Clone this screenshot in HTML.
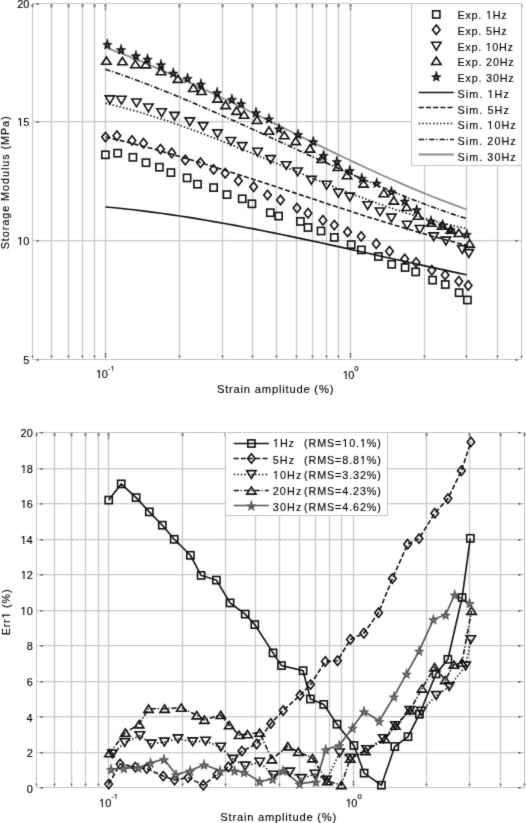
<!DOCTYPE html><html><head><meta charset="utf-8"><style>html,body{margin:0;padding:0;background:#fff;width:526px;height:823px;overflow:hidden}svg{display:block}text{font-family:"Liberation Sans",sans-serif;fill:#000}</style></head><body>
<svg width="526" height="823" viewBox="0 0 526 823">
<defs><filter id="soft" x="0" y="0" width="526" height="823" filterUnits="userSpaceOnUse" color-interpolation-filters="sRGB"><feConvolveMatrix order="3" kernelMatrix="0.0121 0.0858 0.0121 0.0858 0.6084 0.0858 0.0121 0.0858 0.0121" edgeMode="duplicate" preserveAlpha="true"/></filter></defs>
<g filter="url(#soft)">
<rect width="526" height="823" fill="#fff"/>
<line x1="51.5" y1="3.5" x2="51.5" y2="359.5" stroke="#c8c8c8" stroke-width="1.25"/>
<line x1="68.5" y1="3.5" x2="68.5" y2="359.5" stroke="#c8c8c8" stroke-width="1.25"/>
<line x1="82.5" y1="3.5" x2="82.5" y2="359.5" stroke="#c8c8c8" stroke-width="1.25"/>
<line x1="94.5" y1="3.5" x2="94.5" y2="359.5" stroke="#c8c8c8" stroke-width="1.25"/>
<line x1="105.5" y1="3.5" x2="105.5" y2="359.5" stroke="#c8c8c8" stroke-width="1.25"/>
<line x1="179.5" y1="3.5" x2="179.5" y2="359.5" stroke="#c8c8c8" stroke-width="1.25"/>
<line x1="222.5" y1="3.5" x2="222.5" y2="359.5" stroke="#c8c8c8" stroke-width="1.25"/>
<line x1="252.5" y1="3.5" x2="252.5" y2="359.5" stroke="#c8c8c8" stroke-width="1.25"/>
<line x1="276.5" y1="3.5" x2="276.5" y2="359.5" stroke="#c8c8c8" stroke-width="1.25"/>
<line x1="296.5" y1="3.5" x2="296.5" y2="359.5" stroke="#c8c8c8" stroke-width="1.25"/>
<line x1="312.5" y1="3.5" x2="312.5" y2="359.5" stroke="#c8c8c8" stroke-width="1.25"/>
<line x1="326.5" y1="3.5" x2="326.5" y2="359.5" stroke="#c8c8c8" stroke-width="1.25"/>
<line x1="338.5" y1="3.5" x2="338.5" y2="359.5" stroke="#c8c8c8" stroke-width="1.25"/>
<line x1="350.5" y1="3.5" x2="350.5" y2="359.5" stroke="#c8c8c8" stroke-width="1.25"/>
<line x1="424.5" y1="3.5" x2="424.5" y2="359.5" stroke="#c8c8c8" stroke-width="1.25"/>
<line x1="466.5" y1="3.5" x2="466.5" y2="359.5" stroke="#c8c8c8" stroke-width="1.25"/>
<line x1="497.5" y1="3.5" x2="497.5" y2="359.5" stroke="#c8c8c8" stroke-width="1.25"/>
<line x1="32.5" y1="240.5" x2="521.5" y2="240.5" stroke="#c8c8c8" stroke-width="1.25"/>
<line x1="32.5" y1="121.5" x2="521.5" y2="121.5" stroke="#c8c8c8" stroke-width="1.25"/>
<rect x="32.5" y="3.5" width="489.0" height="356.0" fill="none" stroke="#c4c4c4" stroke-width="1"/>
<line x1="32.5" y1="4.0" x2="32.5" y2="7.3" stroke="#777" stroke-width="1.9"/>
<rect x="31.75" y="355.6" width="1.5" height="1.6" fill="#444"/>
<line x1="51.5" y1="4.0" x2="51.5" y2="7.3" stroke="#777" stroke-width="1.9"/>
<rect x="50.75" y="355.6" width="1.5" height="1.6" fill="#444"/>
<line x1="68.5" y1="4.0" x2="68.5" y2="7.3" stroke="#777" stroke-width="1.9"/>
<rect x="67.75" y="355.6" width="1.5" height="1.6" fill="#444"/>
<line x1="82.5" y1="4.0" x2="82.5" y2="7.3" stroke="#777" stroke-width="1.9"/>
<rect x="81.75" y="355.6" width="1.5" height="1.6" fill="#444"/>
<line x1="94.5" y1="4.0" x2="94.5" y2="7.3" stroke="#777" stroke-width="1.9"/>
<rect x="93.75" y="355.6" width="1.5" height="1.6" fill="#444"/>
<line x1="105.5" y1="4.0" x2="105.5" y2="7.3" stroke="#777" stroke-width="1.9"/>
<line x1="105.5" y1="8.5" x2="105.5" y2="10.1" stroke="#555" stroke-width="1.5"/>
<rect x="104.75" y="355.6" width="1.5" height="1.6" fill="#444"/>
<rect x="104.75" y="353.1" width="1.5" height="1.5" fill="#444"/>
<line x1="179.5" y1="4.0" x2="179.5" y2="7.3" stroke="#777" stroke-width="1.9"/>
<rect x="178.75" y="355.6" width="1.5" height="1.6" fill="#444"/>
<line x1="222.5" y1="4.0" x2="222.5" y2="7.3" stroke="#777" stroke-width="1.9"/>
<rect x="221.75" y="355.6" width="1.5" height="1.6" fill="#444"/>
<line x1="252.5" y1="4.0" x2="252.5" y2="7.3" stroke="#777" stroke-width="1.9"/>
<rect x="251.75" y="355.6" width="1.5" height="1.6" fill="#444"/>
<line x1="276.5" y1="4.0" x2="276.5" y2="7.3" stroke="#777" stroke-width="1.9"/>
<rect x="275.75" y="355.6" width="1.5" height="1.6" fill="#444"/>
<line x1="296.5" y1="4.0" x2="296.5" y2="7.3" stroke="#777" stroke-width="1.9"/>
<rect x="295.75" y="355.6" width="1.5" height="1.6" fill="#444"/>
<line x1="312.5" y1="4.0" x2="312.5" y2="7.3" stroke="#777" stroke-width="1.9"/>
<rect x="311.75" y="355.6" width="1.5" height="1.6" fill="#444"/>
<line x1="326.5" y1="4.0" x2="326.5" y2="7.3" stroke="#777" stroke-width="1.9"/>
<rect x="325.75" y="355.6" width="1.5" height="1.6" fill="#444"/>
<line x1="338.5" y1="4.0" x2="338.5" y2="7.3" stroke="#777" stroke-width="1.9"/>
<rect x="337.75" y="355.6" width="1.5" height="1.6" fill="#444"/>
<line x1="350.5" y1="4.0" x2="350.5" y2="7.3" stroke="#777" stroke-width="1.9"/>
<line x1="350.5" y1="8.5" x2="350.5" y2="10.1" stroke="#555" stroke-width="1.5"/>
<rect x="349.75" y="355.6" width="1.5" height="1.6" fill="#444"/>
<rect x="349.75" y="353.1" width="1.5" height="1.5" fill="#444"/>
<line x1="424.5" y1="4.0" x2="424.5" y2="7.3" stroke="#777" stroke-width="1.9"/>
<rect x="423.75" y="355.6" width="1.5" height="1.6" fill="#444"/>
<line x1="466.5" y1="4.0" x2="466.5" y2="7.3" stroke="#777" stroke-width="1.9"/>
<rect x="465.75" y="355.6" width="1.5" height="1.6" fill="#444"/>
<line x1="497.5" y1="4.0" x2="497.5" y2="7.3" stroke="#777" stroke-width="1.9"/>
<rect x="496.75" y="355.6" width="1.5" height="1.6" fill="#444"/>
<line x1="521.5" y1="4.0" x2="521.5" y2="7.3" stroke="#777" stroke-width="1.9"/>
<rect x="520.75" y="355.6" width="1.5" height="1.6" fill="#444"/>
<rect x="36.5" y="359.2" width="2.2" height="1.4" fill="#444"/>
<rect x="515.3" y="359.2" width="2.2" height="1.4" fill="#444"/>
<rect x="36.5" y="240.2" width="2.2" height="1.4" fill="#444"/>
<rect x="515.3" y="240.2" width="2.2" height="1.4" fill="#444"/>
<rect x="36.5" y="121.2" width="2.2" height="1.4" fill="#444"/>
<rect x="515.3" y="121.2" width="2.2" height="1.4" fill="#444"/>
<rect x="36.5" y="3.2" width="2.2" height="1.4" fill="#444"/>
<rect x="515.3" y="3.2" width="2.2" height="1.4" fill="#444"/>
<polyline points="105.5,207.0 114.8,207.8 124.0,208.8 133.3,209.8 142.5,210.9 151.8,212.1 161.1,213.3 170.3,214.6 179.6,216.0 188.9,217.4 198.1,218.9 207.4,220.5 216.6,222.1 225.9,223.7 235.2,225.4 244.4,227.2 253.7,228.9 262.9,230.8 272.2,232.6 281.5,234.5 290.7,236.4 300.0,238.4 309.3,240.4 318.5,242.3 327.8,244.4 337.0,246.4 346.3,248.4 355.6,250.5 364.8,252.5 374.1,254.6 383.3,256.7 392.6,258.7 401.9,260.8 411.1,262.8 420.4,264.9 429.7,266.9 438.9,268.9 448.2,270.9 457.4,272.9 466.7,274.8" fill="none" stroke="#111" stroke-width="1.6"/>
<polyline points="105.6,137.0 114.9,139.2 124.1,141.4 133.4,143.8 142.6,146.2 151.9,148.6 161.2,151.2 170.4,153.8 179.7,156.5 188.9,159.2 198.2,162.0 207.4,164.8 216.7,167.7 226.0,170.6 235.2,173.5 244.5,176.5 253.7,179.5 263.0,182.5 272.3,185.5 281.5,188.6 290.8,191.7 300.0,194.7 309.3,197.8 318.6,200.8 327.8,203.9 337.1,206.9 346.3,209.9 355.6,212.9 364.9,215.9 374.1,218.8 383.4,221.7 392.6,224.5 401.9,227.3 411.1,230.1 420.4,232.8 429.7,235.4 438.9,238.0 448.2,240.5 457.4,243.0 466.7,245.3" fill="none" stroke="#111" stroke-width="1.6" stroke-dasharray="5 2.2"/>
<polyline points="105.6,103.3 114.9,105.5 124.1,107.9 133.4,110.4 142.6,113.1 151.9,116.0 161.2,118.9 170.4,122.0 179.7,125.3 188.9,128.6 198.2,132.0 207.4,135.5 216.7,139.1 226.0,142.8 235.2,146.5 244.5,150.2 253.7,154.0 263.0,157.8 272.3,161.6 281.5,165.5 290.8,169.3 300.0,173.1 309.3,176.9 318.6,180.7 327.8,184.4 337.1,188.1 346.3,191.7 355.6,195.3 364.9,198.7 374.1,202.1 383.4,205.4 392.6,208.5 401.9,211.6 411.1,214.5 420.4,217.2 429.7,219.8 438.9,222.3 448.2,224.6 457.4,226.7 466.7,228.6" fill="none" stroke="#111" stroke-width="1.6" stroke-dasharray="1.5 2.05"/>
<polyline points="105.4,69.2 114.7,72.4 123.9,75.6 133.2,78.9 142.5,82.4 151.7,85.9 161.0,89.6 170.2,93.3 179.5,97.1 188.8,101.0 198.0,105.0 207.3,109.0 216.6,113.0 225.8,117.2 235.1,121.3 244.4,125.5 253.6,129.7 262.9,133.9 272.2,138.2 281.4,142.4 290.7,146.7 299.9,150.9 309.2,155.2 318.5,159.4 327.7,163.6 337.0,167.7 346.3,171.8 355.5,175.9 364.8,179.9 374.1,183.9 383.3,187.8 392.6,191.6 401.9,195.3 411.1,199.0 420.4,202.5 429.6,206.0 438.9,209.3 448.2,212.6 457.4,215.7 466.7,218.7" fill="none" stroke="#111" stroke-width="1.6" stroke-dasharray="5.3 1.6 1.3 2.2"/>
<polyline points="105.4,47.3 114.7,50.8 123.9,54.4 133.2,58.1 142.5,61.9 151.7,65.8 161.0,69.8 170.2,73.9 179.5,78.0 188.8,82.3 198.0,86.6 207.3,90.9 216.6,95.3 225.8,99.7 235.1,104.2 244.4,108.7 253.6,113.2 262.9,117.8 272.2,122.4 281.4,126.9 290.7,131.5 299.9,136.1 309.2,140.6 318.5,145.1 327.7,149.6 337.0,154.1 346.3,158.5 355.5,162.9 364.8,167.2 374.1,171.5 383.3,175.7 392.6,179.8 401.9,183.9 411.1,187.8 420.4,191.7 429.6,195.5 438.9,199.1 448.2,202.7 457.4,206.1 466.7,209.5" fill="none" stroke="#8c8c8c" stroke-width="1.8"/>
<rect x="101.8" y="151.2" width="7.2" height="7.2" fill="none" stroke="#111" stroke-width="1.6"/>
<rect x="114.1" y="149.6" width="7.2" height="7.2" fill="none" stroke="#111" stroke-width="1.6"/>
<rect x="129.3" y="153.7" width="7.2" height="7.2" fill="none" stroke="#111" stroke-width="1.6"/>
<rect x="142.4" y="159.1" width="7.2" height="7.2" fill="none" stroke="#111" stroke-width="1.6"/>
<rect x="155.8" y="163.6" width="7.2" height="7.2" fill="none" stroke="#111" stroke-width="1.6"/>
<rect x="167.3" y="169.0" width="7.2" height="7.2" fill="none" stroke="#111" stroke-width="1.6"/>
<rect x="183.5" y="174.3" width="7.2" height="7.2" fill="none" stroke="#111" stroke-width="1.6"/>
<rect x="193.9" y="180.6" width="7.2" height="7.2" fill="none" stroke="#111" stroke-width="1.6"/>
<rect x="210.0" y="184.0" width="7.2" height="7.2" fill="none" stroke="#111" stroke-width="1.6"/>
<rect x="223.4" y="191.0" width="7.2" height="7.2" fill="none" stroke="#111" stroke-width="1.6"/>
<rect x="238.6" y="195.2" width="7.2" height="7.2" fill="none" stroke="#111" stroke-width="1.6"/>
<rect x="248.3" y="200.2" width="7.2" height="7.2" fill="none" stroke="#111" stroke-width="1.6"/>
<rect x="266.7" y="209.1" width="7.2" height="7.2" fill="none" stroke="#111" stroke-width="1.6"/>
<rect x="275.0" y="212.5" width="7.2" height="7.2" fill="none" stroke="#111" stroke-width="1.6"/>
<rect x="296.8" y="217.8" width="7.2" height="7.2" fill="none" stroke="#111" stroke-width="1.6"/>
<rect x="304.4" y="223.9" width="7.2" height="7.2" fill="none" stroke="#111" stroke-width="1.6"/>
<rect x="317.4" y="227.4" width="7.2" height="7.2" fill="none" stroke="#111" stroke-width="1.6"/>
<rect x="330.7" y="233.8" width="7.2" height="7.2" fill="none" stroke="#111" stroke-width="1.6"/>
<rect x="347.6" y="241.0" width="7.2" height="7.2" fill="none" stroke="#111" stroke-width="1.6"/>
<rect x="357.8" y="246.3" width="7.2" height="7.2" fill="none" stroke="#111" stroke-width="1.6"/>
<rect x="374.8" y="252.9" width="7.2" height="7.2" fill="none" stroke="#111" stroke-width="1.6"/>
<rect x="388.1" y="260.7" width="7.2" height="7.2" fill="none" stroke="#111" stroke-width="1.6"/>
<rect x="401.5" y="263.9" width="7.2" height="7.2" fill="none" stroke="#111" stroke-width="1.6"/>
<rect x="412.1" y="268.3" width="7.2" height="7.2" fill="none" stroke="#111" stroke-width="1.6"/>
<rect x="429.0" y="276.5" width="7.2" height="7.2" fill="none" stroke="#111" stroke-width="1.6"/>
<rect x="441.7" y="280.9" width="7.2" height="7.2" fill="none" stroke="#111" stroke-width="1.6"/>
<rect x="455.5" y="289.1" width="7.2" height="7.2" fill="none" stroke="#111" stroke-width="1.6"/>
<rect x="463.8" y="296.4" width="7.2" height="7.2" fill="none" stroke="#111" stroke-width="1.6"/>
<polygon points="105.5,132.4 109.3,137.1 105.5,141.8 101.7,137.1" fill="none" stroke="#111" stroke-width="1.6"/>
<polygon points="116.9,131.1 120.7,135.8 116.9,140.5 113.1,135.8" fill="none" stroke="#111" stroke-width="1.6"/>
<polygon points="132.0,135.7 135.8,140.4 132.0,145.1 128.2,140.4" fill="none" stroke="#111" stroke-width="1.6"/>
<polygon points="143.5,138.6 147.3,143.3 143.5,148.0 139.7,143.3" fill="none" stroke="#111" stroke-width="1.6"/>
<polygon points="160.5,144.4 164.3,149.1 160.5,153.8 156.7,149.1" fill="none" stroke="#111" stroke-width="1.6"/>
<polygon points="171.7,148.3 175.5,153.0 171.7,157.7 167.9,153.0" fill="none" stroke="#111" stroke-width="1.6"/>
<polygon points="185.3,155.3 189.1,160.0 185.3,164.7 181.5,160.0" fill="none" stroke="#111" stroke-width="1.6"/>
<polygon points="200.5,158.0 204.3,162.7 200.5,167.4 196.7,162.7" fill="none" stroke="#111" stroke-width="1.6"/>
<polygon points="213.6,164.7 217.4,169.4 213.6,174.1 209.8,169.4" fill="none" stroke="#111" stroke-width="1.6"/>
<polygon points="225.2,168.6 229.0,173.3 225.2,178.0 221.4,173.3" fill="none" stroke="#111" stroke-width="1.6"/>
<polygon points="238.4,176.1 242.2,180.8 238.4,185.5 234.6,180.8" fill="none" stroke="#111" stroke-width="1.6"/>
<polygon points="253.6,182.0 257.4,186.7 253.6,191.4 249.8,186.7" fill="none" stroke="#111" stroke-width="1.6"/>
<polygon points="267.5,190.3 271.3,195.0 267.5,199.7 263.7,195.0" fill="none" stroke="#111" stroke-width="1.6"/>
<polygon points="280.5,195.3 284.3,200.0 280.5,204.7 276.7,200.0" fill="none" stroke="#111" stroke-width="1.6"/>
<polygon points="297.0,203.4 300.8,208.1 297.0,212.8 293.2,208.1" fill="none" stroke="#111" stroke-width="1.6"/>
<polygon points="308.0,208.6 311.8,213.3 308.0,218.0 304.2,213.3" fill="none" stroke="#111" stroke-width="1.6"/>
<polygon points="322.9,215.6 326.7,220.3 322.9,225.0 319.1,220.3" fill="none" stroke="#111" stroke-width="1.6"/>
<polygon points="334.3,220.4 338.1,225.1 334.3,229.8 330.5,225.1" fill="none" stroke="#111" stroke-width="1.6"/>
<polygon points="347.6,227.2 351.4,231.9 347.6,236.6 343.8,231.9" fill="none" stroke="#111" stroke-width="1.6"/>
<polygon points="361.2,231.7 365.0,236.4 361.2,241.1 357.4,236.4" fill="none" stroke="#111" stroke-width="1.6"/>
<polygon points="376.2,239.0 380.0,243.7 376.2,248.4 372.4,243.7" fill="none" stroke="#111" stroke-width="1.6"/>
<polygon points="389.5,246.6 393.3,251.3 389.5,256.0 385.7,251.3" fill="none" stroke="#111" stroke-width="1.6"/>
<polygon points="404.7,254.2 408.5,258.9 404.7,263.6 400.9,258.9" fill="none" stroke="#111" stroke-width="1.6"/>
<polygon points="416.1,257.7 419.9,262.4 416.1,267.1 412.3,262.4" fill="none" stroke="#111" stroke-width="1.6"/>
<polygon points="431.8,265.6 435.6,270.3 431.8,275.0 428.0,270.3" fill="none" stroke="#111" stroke-width="1.6"/>
<polygon points="445.1,270.2 448.9,274.9 445.1,279.6 441.3,274.9" fill="none" stroke="#111" stroke-width="1.6"/>
<polygon points="458.8,276.5 462.6,281.2 458.8,285.9 455.0,281.2" fill="none" stroke="#111" stroke-width="1.6"/>
<polygon points="468.2,280.8 472.0,285.5 468.2,290.2 464.4,285.5" fill="none" stroke="#111" stroke-width="1.6"/>
<polygon points="105.2,95.9 114.6,95.9 109.9,103.7" fill="none" stroke="#111" stroke-width="1.6" stroke-linejoin="miter"/>
<polygon points="116.7,96.3 126.1,96.3 121.4,104.1" fill="none" stroke="#111" stroke-width="1.6" stroke-linejoin="miter"/>
<polygon points="131.8,99.0 141.2,99.0 136.5,106.8" fill="none" stroke="#111" stroke-width="1.6" stroke-linejoin="miter"/>
<polygon points="143.7,104.0 153.1,104.0 148.4,111.8" fill="none" stroke="#111" stroke-width="1.6" stroke-linejoin="miter"/>
<polygon points="156.9,108.8 166.3,108.8 161.6,116.6" fill="none" stroke="#111" stroke-width="1.6" stroke-linejoin="miter"/>
<polygon points="169.9,112.4 179.3,112.4 174.6,120.2" fill="none" stroke="#111" stroke-width="1.6" stroke-linejoin="miter"/>
<polygon points="185.1,117.9 194.5,117.9 189.8,125.7" fill="none" stroke="#111" stroke-width="1.6" stroke-linejoin="miter"/>
<polygon points="198.5,122.6 207.9,122.6 203.2,130.4" fill="none" stroke="#111" stroke-width="1.6" stroke-linejoin="miter"/>
<polygon points="212.8,129.9 222.2,129.9 217.5,137.7" fill="none" stroke="#111" stroke-width="1.6" stroke-linejoin="miter"/>
<polygon points="226.1,137.5 235.5,137.5 230.8,145.3" fill="none" stroke="#111" stroke-width="1.6" stroke-linejoin="miter"/>
<polygon points="237.5,142.6 246.9,142.6 242.2,150.4" fill="none" stroke="#111" stroke-width="1.6" stroke-linejoin="miter"/>
<polygon points="252.9,148.3 262.3,148.3 257.6,156.1" fill="none" stroke="#111" stroke-width="1.6" stroke-linejoin="miter"/>
<polygon points="265.9,155.6 275.3,155.6 270.6,163.4" fill="none" stroke="#111" stroke-width="1.6" stroke-linejoin="miter"/>
<polygon points="281.5,161.7 290.9,161.7 286.2,169.5" fill="none" stroke="#111" stroke-width="1.6" stroke-linejoin="miter"/>
<polygon points="292.9,168.0 302.3,168.0 297.6,175.8" fill="none" stroke="#111" stroke-width="1.6" stroke-linejoin="miter"/>
<polygon points="306.7,176.3 316.1,176.3 311.4,184.1" fill="none" stroke="#111" stroke-width="1.6" stroke-linejoin="miter"/>
<polygon points="322.0,181.3 331.4,181.3 326.7,189.1" fill="none" stroke="#111" stroke-width="1.6" stroke-linejoin="miter"/>
<polygon points="333.7,189.3 343.1,189.3 338.4,197.1" fill="none" stroke="#111" stroke-width="1.6" stroke-linejoin="miter"/>
<polygon points="345.1,193.1 354.5,193.1 349.8,200.9" fill="none" stroke="#111" stroke-width="1.6" stroke-linejoin="miter"/>
<polygon points="362.9,201.7 372.3,201.7 367.6,209.5" fill="none" stroke="#111" stroke-width="1.6" stroke-linejoin="miter"/>
<polygon points="375.3,208.0 384.7,208.0 380.0,215.8" fill="none" stroke="#111" stroke-width="1.6" stroke-linejoin="miter"/>
<polygon points="386.7,214.1 396.1,214.1 391.4,221.9" fill="none" stroke="#111" stroke-width="1.6" stroke-linejoin="miter"/>
<polygon points="402.4,221.3 411.8,221.3 407.1,229.1" fill="none" stroke="#111" stroke-width="1.6" stroke-linejoin="miter"/>
<polygon points="415.2,225.5 424.6,225.5 419.9,233.3" fill="none" stroke="#111" stroke-width="1.6" stroke-linejoin="miter"/>
<polygon points="429.0,232.9 438.4,232.9 433.7,240.7" fill="none" stroke="#111" stroke-width="1.6" stroke-linejoin="miter"/>
<polygon points="441.2,237.1 450.6,237.1 445.9,244.9" fill="none" stroke="#111" stroke-width="1.6" stroke-linejoin="miter"/>
<polygon points="457.6,245.6 467.0,245.6 462.3,253.4" fill="none" stroke="#111" stroke-width="1.6" stroke-linejoin="miter"/>
<polygon points="464.1,249.6 473.5,249.6 468.8,257.4" fill="none" stroke="#111" stroke-width="1.6" stroke-linejoin="miter"/>
<polygon points="101.7,64.2 111.1,64.2 106.4,57.0" fill="none" stroke="#111" stroke-width="1.6" stroke-linejoin="miter"/>
<polygon points="117.7,64.8 127.1,64.8 122.4,57.5" fill="none" stroke="#111" stroke-width="1.6" stroke-linejoin="miter"/>
<polygon points="130.7,67.7 140.1,67.7 135.4,60.4" fill="none" stroke="#111" stroke-width="1.6" stroke-linejoin="miter"/>
<polygon points="141.1,67.9 150.5,67.9 145.8,60.6" fill="none" stroke="#111" stroke-width="1.6" stroke-linejoin="miter"/>
<polygon points="156.3,74.7 165.7,74.7 161.0,67.3" fill="none" stroke="#111" stroke-width="1.6" stroke-linejoin="miter"/>
<polygon points="173.2,82.4 182.6,82.4 177.9,75.0" fill="none" stroke="#111" stroke-width="1.6" stroke-linejoin="miter"/>
<polygon points="188.6,91.5 198.0,91.5 193.3,84.1" fill="none" stroke="#111" stroke-width="1.6" stroke-linejoin="miter"/>
<polygon points="196.8,94.5 206.2,94.5 201.5,87.1" fill="none" stroke="#111" stroke-width="1.6" stroke-linejoin="miter"/>
<polygon points="212.8,102.1 222.2,102.1 217.5,94.8" fill="none" stroke="#111" stroke-width="1.6" stroke-linejoin="miter"/>
<polygon points="220.9,108.6 230.3,108.6 225.6,101.2" fill="none" stroke="#111" stroke-width="1.6" stroke-linejoin="miter"/>
<polygon points="231.8,114.4 241.2,114.4 236.5,107.0" fill="none" stroke="#111" stroke-width="1.6" stroke-linejoin="miter"/>
<polygon points="239.4,118.2 248.8,118.2 244.1,110.9" fill="none" stroke="#111" stroke-width="1.6" stroke-linejoin="miter"/>
<polygon points="252.3,123.5 261.7,123.5 257.0,116.1" fill="none" stroke="#111" stroke-width="1.6" stroke-linejoin="miter"/>
<polygon points="264.3,134.2 273.7,134.2 269.0,126.8" fill="none" stroke="#111" stroke-width="1.6" stroke-linejoin="miter"/>
<polygon points="279.6,138.8 289.0,138.8 284.3,131.5" fill="none" stroke="#111" stroke-width="1.6" stroke-linejoin="miter"/>
<polygon points="291.0,144.6 300.4,144.6 295.7,137.2" fill="none" stroke="#111" stroke-width="1.6" stroke-linejoin="miter"/>
<polygon points="305.2,152.1 314.6,152.1 309.9,144.8" fill="none" stroke="#111" stroke-width="1.6" stroke-linejoin="miter"/>
<polygon points="317.0,162.5 326.4,162.5 321.7,155.2" fill="none" stroke="#111" stroke-width="1.6" stroke-linejoin="miter"/>
<polygon points="333.2,170.5 342.6,170.5 337.9,163.2" fill="none" stroke="#111" stroke-width="1.6" stroke-linejoin="miter"/>
<polygon points="342.3,178.7 351.7,178.7 347.0,171.3" fill="none" stroke="#111" stroke-width="1.6" stroke-linejoin="miter"/>
<polygon points="358.8,187.1 368.2,187.1 363.5,179.8" fill="none" stroke="#111" stroke-width="1.6" stroke-linejoin="miter"/>
<polygon points="379.1,196.8 388.5,196.8 383.8,189.4" fill="none" stroke="#111" stroke-width="1.6" stroke-linejoin="miter"/>
<polygon points="389.1,204.1 398.5,204.1 393.8,196.8" fill="none" stroke="#111" stroke-width="1.6" stroke-linejoin="miter"/>
<polygon points="401.9,210.5 411.3,210.5 406.6,203.2" fill="none" stroke="#111" stroke-width="1.6" stroke-linejoin="miter"/>
<polygon points="413.3,219.2 422.7,219.2 418.0,211.9" fill="none" stroke="#111" stroke-width="1.6" stroke-linejoin="miter"/>
<polygon points="426.6,226.2 436.0,226.2 431.3,218.9" fill="none" stroke="#111" stroke-width="1.6" stroke-linejoin="miter"/>
<polygon points="437.5,229.2 446.9,229.2 442.2,221.9" fill="none" stroke="#111" stroke-width="1.6" stroke-linejoin="miter"/>
<polygon points="446.1,233.2 455.5,233.2 450.8,225.9" fill="none" stroke="#111" stroke-width="1.6" stroke-linejoin="miter"/>
<polygon points="454.1,236.5 463.5,236.5 458.8,229.2" fill="none" stroke="#111" stroke-width="1.6" stroke-linejoin="miter"/>
<polygon points="464.9,247.1 474.3,247.1 469.6,239.8" fill="none" stroke="#111" stroke-width="1.6" stroke-linejoin="miter"/>
<polygon points="107.4,38.8 108.6,43.2 112.1,43.4 109.4,45.5 110.3,48.9 107.4,47.0 104.5,48.9 105.4,45.5 102.7,43.4 106.2,43.2" fill="#111" stroke="#111" stroke-width="0.6" stroke-linejoin="round"/><circle cx="107.4" cy="44.9" r="0.8" fill="#9a9a9a"/>
<polygon points="121.1,44.1 122.3,48.5 125.8,48.7 123.1,50.8 124.0,54.2 121.1,52.3 118.2,54.2 119.1,50.8 116.4,48.7 119.9,48.5" fill="#111" stroke="#111" stroke-width="0.6" stroke-linejoin="round"/><circle cx="121.1" cy="50.2" r="0.8" fill="#9a9a9a"/>
<polygon points="135.9,50.2 137.1,54.6 140.6,54.8 137.9,56.9 138.8,60.3 135.9,58.4 133.0,60.3 133.9,56.9 131.2,54.8 134.7,54.6" fill="#111" stroke="#111" stroke-width="0.6" stroke-linejoin="round"/><circle cx="135.9" cy="56.3" r="0.8" fill="#9a9a9a"/>
<polygon points="147.5,53.6 148.7,58.0 152.2,58.2 149.5,60.3 150.4,63.7 147.5,61.8 144.6,63.7 145.5,60.3 142.8,58.2 146.3,58.0" fill="#111" stroke="#111" stroke-width="0.6" stroke-linejoin="round"/><circle cx="147.5" cy="59.7" r="0.8" fill="#9a9a9a"/>
<polygon points="161.0,59.2 162.2,63.6 165.7,63.8 163.0,65.9 163.9,69.3 161.0,67.4 158.1,69.3 159.0,65.9 156.3,63.8 159.8,63.6" fill="#111" stroke="#111" stroke-width="0.6" stroke-linejoin="round"/><circle cx="161.0" cy="65.3" r="0.8" fill="#9a9a9a"/>
<polygon points="173.3,67.6 174.5,72.0 178.0,72.2 175.3,74.3 176.2,77.7 173.3,75.8 170.4,77.7 171.3,74.3 168.6,72.2 172.1,72.0" fill="#111" stroke="#111" stroke-width="0.6" stroke-linejoin="round"/><circle cx="173.3" cy="73.7" r="0.8" fill="#9a9a9a"/>
<polygon points="187.6,72.8 188.8,77.2 192.3,77.4 189.6,79.5 190.5,82.9 187.6,81.0 184.7,82.9 185.6,79.5 182.9,77.4 186.4,77.2" fill="#111" stroke="#111" stroke-width="0.6" stroke-linejoin="round"/><circle cx="187.6" cy="78.9" r="0.8" fill="#9a9a9a"/>
<polygon points="200.9,78.6 202.1,83.0 205.6,83.2 202.9,85.3 203.8,88.7 200.9,86.8 198.0,88.7 198.9,85.3 196.2,83.2 199.7,83.0" fill="#111" stroke="#111" stroke-width="0.6" stroke-linejoin="round"/><circle cx="200.9" cy="84.7" r="0.8" fill="#9a9a9a"/>
<polygon points="217.1,87.1 218.3,91.5 221.8,91.7 219.1,93.8 220.0,97.2 217.1,95.3 214.2,97.2 215.1,93.8 212.4,91.7 215.9,91.5" fill="#111" stroke="#111" stroke-width="0.6" stroke-linejoin="round"/><circle cx="217.1" cy="93.2" r="0.8" fill="#9a9a9a"/>
<polygon points="231.9,93.8 233.1,98.2 236.6,98.4 233.9,100.5 234.8,103.9 231.9,102.0 229.0,103.9 229.9,100.5 227.2,98.4 230.7,98.2" fill="#111" stroke="#111" stroke-width="0.6" stroke-linejoin="round"/><circle cx="231.9" cy="99.9" r="0.8" fill="#9a9a9a"/>
<polygon points="241.2,98.1 242.4,102.5 245.9,102.7 243.2,104.8 244.1,108.2 241.2,106.3 238.3,108.2 239.2,104.8 236.5,102.7 240.0,102.5" fill="#111" stroke="#111" stroke-width="0.6" stroke-linejoin="round"/><circle cx="241.2" cy="104.2" r="0.8" fill="#9a9a9a"/>
<polygon points="256.0,107.1 257.2,111.5 260.7,111.7 258.0,113.8 258.9,117.2 256.0,115.3 253.1,117.2 254.0,113.8 251.3,111.7 254.8,111.5" fill="#111" stroke="#111" stroke-width="0.6" stroke-linejoin="round"/><circle cx="256.0" cy="113.2" r="0.8" fill="#9a9a9a"/>
<polygon points="269.0,113.4 270.2,117.8 273.7,118.0 271.0,120.1 271.9,123.5 269.0,121.6 266.1,123.5 267.0,120.1 264.3,118.0 267.8,117.8" fill="#111" stroke="#111" stroke-width="0.6" stroke-linejoin="round"/><circle cx="269.0" cy="119.5" r="0.8" fill="#9a9a9a"/>
<polygon points="279.0,123.3 280.2,127.7 283.7,127.9 281.0,130.0 281.9,133.4 279.0,131.5 276.1,133.4 277.0,130.0 274.3,127.9 277.8,127.7" fill="#111" stroke="#111" stroke-width="0.6" stroke-linejoin="round"/><circle cx="279.0" cy="129.4" r="0.8" fill="#9a9a9a"/>
<polygon points="298.1,129.0 299.3,133.4 302.8,133.6 300.1,135.7 301.0,139.1 298.1,137.2 295.2,139.1 296.1,135.7 293.4,133.6 296.9,133.4" fill="#111" stroke="#111" stroke-width="0.6" stroke-linejoin="round"/><circle cx="298.1" cy="135.1" r="0.8" fill="#9a9a9a"/>
<polygon points="313.3,136.2 314.5,140.6 318.0,140.8 315.3,142.9 316.2,146.3 313.3,144.4 310.4,146.3 311.3,142.9 308.6,140.8 312.1,140.6" fill="#111" stroke="#111" stroke-width="0.6" stroke-linejoin="round"/><circle cx="313.3" cy="142.3" r="0.8" fill="#9a9a9a"/>
<polygon points="323.6,149.9 324.8,154.3 328.3,154.5 325.6,156.6 326.5,160.0 323.6,158.1 320.7,160.0 321.6,156.6 318.9,154.5 322.4,154.3" fill="#111" stroke="#111" stroke-width="0.6" stroke-linejoin="round"/><circle cx="323.6" cy="156.0" r="0.8" fill="#9a9a9a"/>
<polygon points="336.9,156.0 338.1,160.4 341.6,160.6 338.9,162.7 339.8,166.1 336.9,164.2 334.0,166.1 334.9,162.7 332.2,160.6 335.7,160.4" fill="#111" stroke="#111" stroke-width="0.6" stroke-linejoin="round"/><circle cx="336.9" cy="162.1" r="0.8" fill="#9a9a9a"/>
<polygon points="349.8,165.1 351.0,169.5 354.5,169.7 351.8,171.8 352.7,175.2 349.8,173.3 346.9,175.2 347.8,171.8 345.1,169.7 348.6,169.5" fill="#111" stroke="#111" stroke-width="0.6" stroke-linejoin="round"/><circle cx="349.8" cy="171.2" r="0.8" fill="#9a9a9a"/>
<polygon points="361.8,172.8 363.0,177.2 366.5,177.4 363.8,179.5 364.7,182.9 361.8,181.0 358.9,182.9 359.8,179.5 357.1,177.4 360.6,177.2" fill="#111" stroke="#111" stroke-width="0.6" stroke-linejoin="round"/><circle cx="361.8" cy="178.9" r="0.8" fill="#9a9a9a"/>
<polygon points="376.7,177.6 377.9,182.0 381.4,182.2 378.7,184.3 379.6,187.7 376.7,185.8 373.8,187.7 374.7,184.3 372.0,182.2 375.5,182.0" fill="#111" stroke="#111" stroke-width="0.6" stroke-linejoin="round"/><circle cx="376.7" cy="183.7" r="0.8" fill="#9a9a9a"/>
<polygon points="391.4,186.1 392.6,190.5 396.1,190.7 393.4,192.8 394.3,196.2 391.4,194.3 388.5,196.2 389.4,192.8 386.7,190.7 390.2,190.5" fill="#111" stroke="#111" stroke-width="0.6" stroke-linejoin="round"/><circle cx="391.4" cy="192.2" r="0.8" fill="#9a9a9a"/>
<polygon points="404.7,195.6 405.9,200.0 409.4,200.2 406.7,202.3 407.6,205.7 404.7,203.8 401.8,205.7 402.7,202.3 400.0,200.2 403.5,200.0" fill="#111" stroke="#111" stroke-width="0.6" stroke-linejoin="round"/><circle cx="404.7" cy="201.7" r="0.8" fill="#9a9a9a"/>
<polygon points="416.7,204.2 417.9,208.6 421.4,208.8 418.7,210.9 419.6,214.3 416.7,212.4 413.8,214.3 414.7,210.9 412.0,208.8 415.5,208.6" fill="#111" stroke="#111" stroke-width="0.6" stroke-linejoin="round"/><circle cx="416.7" cy="210.3" r="0.8" fill="#9a9a9a"/>
<polygon points="431.0,215.5 432.2,219.9 435.7,220.1 433.0,222.2 433.9,225.6 431.0,223.7 428.1,225.6 429.0,222.2 426.3,220.1 429.8,219.9" fill="#111" stroke="#111" stroke-width="0.6" stroke-linejoin="round"/><circle cx="431.0" cy="221.6" r="0.8" fill="#9a9a9a"/>
<polygon points="442.7,219.3 443.9,223.7 447.4,223.9 444.7,226.0 445.6,229.4 442.7,227.5 439.8,229.4 440.7,226.0 438.0,223.9 441.5,223.7" fill="#111" stroke="#111" stroke-width="0.6" stroke-linejoin="round"/><circle cx="442.7" cy="225.4" r="0.8" fill="#9a9a9a"/>
<polygon points="450.6,224.2 451.8,228.6 455.3,228.8 452.6,230.9 453.5,234.3 450.6,232.4 447.7,234.3 448.6,230.9 445.9,228.8 449.4,228.6" fill="#111" stroke="#111" stroke-width="0.6" stroke-linejoin="round"/><circle cx="450.6" cy="230.3" r="0.8" fill="#9a9a9a"/>
<polygon points="466.8,228.8 468.0,233.2 471.5,233.4 468.8,235.5 469.7,238.9 466.8,237.0 463.9,238.9 464.8,235.5 462.1,233.4 465.6,233.2" fill="#111" stroke="#111" stroke-width="0.6" stroke-linejoin="round"/><circle cx="466.8" cy="234.9" r="0.8" fill="#9a9a9a"/>
<rect x="411.5" y="3.5" width="110.0" height="162.0" fill="#fff" stroke="#c4c4c4" stroke-width="1"/>
<rect x="432.7" y="10.8" width="7.2" height="7.2" fill="none" stroke="#111" stroke-width="1.6"/>
<polygon points="436.3,25.0 440.1,29.7 436.3,34.4 432.5,29.7" fill="none" stroke="#111" stroke-width="1.6"/>
<polygon points="431.6,42.3 441.0,42.3 436.3,50.1" fill="none" stroke="#111" stroke-width="1.6" stroke-linejoin="miter"/>
<polygon points="431.6,64.5 441.0,64.5 436.3,57.1" fill="none" stroke="#111" stroke-width="1.6" stroke-linejoin="miter"/>
<polygon points="436.3,71.1 437.5,75.5 441.0,75.7 438.3,77.8 439.2,81.2 436.3,79.3 433.4,81.2 434.3,77.8 431.6,75.7 435.1,75.5" fill="#111" stroke="#111" stroke-width="0.6" stroke-linejoin="round"/><circle cx="436.3" cy="77.2" r="0.8" fill="#9a9a9a"/>
<line x1="418.8" y1="92.5" x2="453.8" y2="92.5" stroke="#111" stroke-width="1.6"/>
<line x1="418.8" y1="107.5" x2="453.8" y2="107.5" stroke="#111" stroke-width="1.6" stroke-dasharray="5 2.2"/>
<line x1="418.8" y1="123.5" x2="453.8" y2="123.5" stroke="#111" stroke-width="1.6" stroke-dasharray="1.5 2.05"/>
<line x1="418.8" y1="139.5" x2="453.8" y2="139.5" stroke="#111" stroke-width="1.6" stroke-dasharray="5.3 1.6 1.3 2.2"/>
<line x1="418.8" y1="154.5" x2="453.8" y2="154.5" stroke="#8c8c8c" stroke-width="1.8"/>
<text x="457.41" y="19.00" font-size="10.8" letter-spacing="0.787" stroke="#000" stroke-width="0.12">Exp. 1Hz</text><rect x="485.85" y="17.16" width="2.65" height="2.34" fill="#fff"/><rect x="489.85" y="17.16" width="2.38" height="2.34" fill="#fff"/>
<text x="457.41" y="34.77" font-size="10.8" letter-spacing="0.787" stroke="#000" stroke-width="0.12">Exp. 5Hz</text>
<text x="457.41" y="50.54" font-size="10.8" letter-spacing="0.725" stroke="#000" stroke-width="0.12">Exp. 10Hz</text><rect x="485.54" y="48.70" width="2.65" height="2.34" fill="#fff"/><rect x="489.54" y="48.70" width="2.38" height="2.34" fill="#fff"/>
<text x="457.41" y="66.31" font-size="10.8" letter-spacing="0.813" stroke="#000" stroke-width="0.12">Exp. 20Hz</text>
<text x="457.41" y="82.08" font-size="10.8" letter-spacing="0.813" stroke="#000" stroke-width="0.12">Exp. 30Hz</text>
<text x="457.51" y="97.85" font-size="10.8" letter-spacing="1.075" stroke="#000" stroke-width="0.12">Sim. 1Hz</text><rect x="487.37" y="96.01" width="2.65" height="2.34" fill="#fff"/><rect x="491.37" y="96.01" width="2.38" height="2.34" fill="#fff"/>
<text x="457.51" y="113.62" font-size="10.8" letter-spacing="1.075" stroke="#000" stroke-width="0.12">Sim. 5Hz</text>
<text x="457.51" y="129.39" font-size="10.8" letter-spacing="1.052" stroke="#000" stroke-width="0.12">Sim. 10Hz</text><rect x="487.26" y="127.55" width="2.65" height="2.34" fill="#fff"/><rect x="491.26" y="127.55" width="2.38" height="2.34" fill="#fff"/>
<text x="457.51" y="145.16" font-size="10.8" letter-spacing="1.052" stroke="#000" stroke-width="0.12">Sim. 20Hz</text>
<text x="457.51" y="160.93" font-size="10.8" letter-spacing="1.052" stroke="#000" stroke-width="0.12">Sim. 30Hz</text>
<text x="17.19" y="7.70" font-size="11" stroke="#000" stroke-width="0.12">20</text>
<text x="17.23" y="126.34" font-size="11" stroke="#000" stroke-width="0.12">15</text><rect x="17.12" y="124.47" width="2.69" height="2.37" fill="#fff"/><rect x="21.19" y="124.47" width="2.42" height="2.37" fill="#fff"/>
<text x="17.19" y="244.97" font-size="11" stroke="#000" stroke-width="0.12">10</text><rect x="17.08" y="243.10" width="2.69" height="2.37" fill="#fff"/><rect x="21.15" y="243.10" width="2.42" height="2.37" fill="#fff"/>
<text x="23.34" y="363.61" font-size="11" stroke="#000" stroke-width="0.12">5</text>
<text x="95.96" y="378.40" font-size="11" letter-spacing="-0.368" stroke="#000" stroke-width="0.12">10</text><rect x="95.85" y="376.53" width="2.69" height="2.37" fill="#fff"/><rect x="99.92" y="376.53" width="2.42" height="2.37" fill="#fff"/><text x="107.85" y="370.60" font-size="7.8" letter-spacing="0.092" stroke="#000" stroke-width="0.12">-1</text><rect x="110.46" y="369.27" width="1.91" height="1.83" fill="#fff"/><rect x="113.35" y="369.27" width="1.72" height="1.83" fill="#fff"/>
<text x="342.86" y="378.80" font-size="11" letter-spacing="-0.668" stroke="#000" stroke-width="0.12">10</text><rect x="342.75" y="376.93" width="2.69" height="2.37" fill="#fff"/><rect x="346.82" y="376.93" width="2.42" height="2.37" fill="#fff"/><text x="354.30" y="370.60" font-size="7.8" letter-spacing="0.000" stroke="#000" stroke-width="0.12">0</text>
<text x="216.89" y="392.80" font-size="11.2" letter-spacing="0.797" stroke="#000" stroke-width="0.12">Strain amplitude (%)</text>
<g transform="translate(8.50,248.80) rotate(-90)"><text x="-0.49" y="0" font-size="10.8" letter-spacing="0.946" stroke="#000" stroke-width="0.12">Storage Modulus (MPa)</text></g>
<line x1="54.5" y1="432.5" x2="54.5" y2="787.5" stroke="#c8c8c8" stroke-width="1.25"/>
<line x1="71.5" y1="432.5" x2="71.5" y2="787.5" stroke="#c8c8c8" stroke-width="1.25"/>
<line x1="85.5" y1="432.5" x2="85.5" y2="787.5" stroke="#c8c8c8" stroke-width="1.25"/>
<line x1="98.5" y1="432.5" x2="98.5" y2="787.5" stroke="#c8c8c8" stroke-width="1.25"/>
<line x1="108.5" y1="432.5" x2="108.5" y2="787.5" stroke="#c8c8c8" stroke-width="1.25"/>
<line x1="182.5" y1="432.5" x2="182.5" y2="787.5" stroke="#c8c8c8" stroke-width="1.25"/>
<line x1="225.5" y1="432.5" x2="225.5" y2="787.5" stroke="#c8c8c8" stroke-width="1.25"/>
<line x1="255.5" y1="432.5" x2="255.5" y2="787.5" stroke="#c8c8c8" stroke-width="1.25"/>
<line x1="279.5" y1="432.5" x2="279.5" y2="787.5" stroke="#c8c8c8" stroke-width="1.25"/>
<line x1="299.5" y1="432.5" x2="299.5" y2="787.5" stroke="#c8c8c8" stroke-width="1.25"/>
<line x1="315.5" y1="432.5" x2="315.5" y2="787.5" stroke="#c8c8c8" stroke-width="1.25"/>
<line x1="329.5" y1="432.5" x2="329.5" y2="787.5" stroke="#c8c8c8" stroke-width="1.25"/>
<line x1="341.5" y1="432.5" x2="341.5" y2="787.5" stroke="#c8c8c8" stroke-width="1.25"/>
<line x1="353.5" y1="432.5" x2="353.5" y2="787.5" stroke="#c8c8c8" stroke-width="1.25"/>
<line x1="426.5" y1="432.5" x2="426.5" y2="787.5" stroke="#c8c8c8" stroke-width="1.25"/>
<line x1="469.5" y1="432.5" x2="469.5" y2="787.5" stroke="#c8c8c8" stroke-width="1.25"/>
<line x1="500.5" y1="432.5" x2="500.5" y2="787.5" stroke="#c8c8c8" stroke-width="1.25"/>
<line x1="36.5" y1="752.5" x2="524.5" y2="752.5" stroke="#c8c8c8" stroke-width="1.25"/>
<line x1="36.5" y1="716.5" x2="524.5" y2="716.5" stroke="#c8c8c8" stroke-width="1.25"/>
<line x1="36.5" y1="681.5" x2="524.5" y2="681.5" stroke="#c8c8c8" stroke-width="1.25"/>
<line x1="36.5" y1="645.5" x2="524.5" y2="645.5" stroke="#c8c8c8" stroke-width="1.25"/>
<line x1="36.5" y1="610.5" x2="524.5" y2="610.5" stroke="#c8c8c8" stroke-width="1.25"/>
<line x1="36.5" y1="574.5" x2="524.5" y2="574.5" stroke="#c8c8c8" stroke-width="1.25"/>
<line x1="36.5" y1="539.5" x2="524.5" y2="539.5" stroke="#c8c8c8" stroke-width="1.25"/>
<line x1="36.5" y1="503.5" x2="524.5" y2="503.5" stroke="#c8c8c8" stroke-width="1.25"/>
<line x1="36.5" y1="468.5" x2="524.5" y2="468.5" stroke="#c8c8c8" stroke-width="1.25"/>
<rect x="36.5" y="432.5" width="488.0" height="355.0" fill="none" stroke="#c4c4c4" stroke-width="1"/>
<line x1="36.5" y1="433.0" x2="36.5" y2="436.3" stroke="#777" stroke-width="1.9"/>
<rect x="35.75" y="783.6" width="1.5" height="1.6" fill="#444"/>
<line x1="54.5" y1="433.0" x2="54.5" y2="436.3" stroke="#777" stroke-width="1.9"/>
<rect x="53.75" y="783.6" width="1.5" height="1.6" fill="#444"/>
<line x1="71.5" y1="433.0" x2="71.5" y2="436.3" stroke="#777" stroke-width="1.9"/>
<rect x="70.75" y="783.6" width="1.5" height="1.6" fill="#444"/>
<line x1="85.5" y1="433.0" x2="85.5" y2="436.3" stroke="#777" stroke-width="1.9"/>
<rect x="84.75" y="783.6" width="1.5" height="1.6" fill="#444"/>
<line x1="98.5" y1="433.0" x2="98.5" y2="436.3" stroke="#777" stroke-width="1.9"/>
<rect x="97.75" y="783.6" width="1.5" height="1.6" fill="#444"/>
<line x1="108.5" y1="433.0" x2="108.5" y2="436.3" stroke="#777" stroke-width="1.9"/>
<line x1="108.5" y1="437.5" x2="108.5" y2="439.1" stroke="#555" stroke-width="1.5"/>
<rect x="107.75" y="783.6" width="1.5" height="1.6" fill="#444"/>
<rect x="107.75" y="781.1" width="1.5" height="1.5" fill="#444"/>
<line x1="182.5" y1="433.0" x2="182.5" y2="436.3" stroke="#777" stroke-width="1.9"/>
<rect x="181.75" y="783.6" width="1.5" height="1.6" fill="#444"/>
<line x1="225.5" y1="433.0" x2="225.5" y2="436.3" stroke="#777" stroke-width="1.9"/>
<rect x="224.75" y="783.6" width="1.5" height="1.6" fill="#444"/>
<line x1="255.5" y1="433.0" x2="255.5" y2="436.3" stroke="#777" stroke-width="1.9"/>
<rect x="254.75" y="783.6" width="1.5" height="1.6" fill="#444"/>
<line x1="279.5" y1="433.0" x2="279.5" y2="436.3" stroke="#777" stroke-width="1.9"/>
<rect x="278.75" y="783.6" width="1.5" height="1.6" fill="#444"/>
<line x1="299.5" y1="433.0" x2="299.5" y2="436.3" stroke="#777" stroke-width="1.9"/>
<rect x="298.75" y="783.6" width="1.5" height="1.6" fill="#444"/>
<line x1="315.5" y1="433.0" x2="315.5" y2="436.3" stroke="#777" stroke-width="1.9"/>
<rect x="314.75" y="783.6" width="1.5" height="1.6" fill="#444"/>
<line x1="329.5" y1="433.0" x2="329.5" y2="436.3" stroke="#777" stroke-width="1.9"/>
<rect x="328.75" y="783.6" width="1.5" height="1.6" fill="#444"/>
<line x1="341.5" y1="433.0" x2="341.5" y2="436.3" stroke="#777" stroke-width="1.9"/>
<rect x="340.75" y="783.6" width="1.5" height="1.6" fill="#444"/>
<line x1="353.5" y1="433.0" x2="353.5" y2="436.3" stroke="#777" stroke-width="1.9"/>
<line x1="353.5" y1="437.5" x2="353.5" y2="439.1" stroke="#555" stroke-width="1.5"/>
<rect x="352.75" y="783.6" width="1.5" height="1.6" fill="#444"/>
<rect x="352.75" y="781.1" width="1.5" height="1.5" fill="#444"/>
<line x1="426.5" y1="433.0" x2="426.5" y2="436.3" stroke="#777" stroke-width="1.9"/>
<rect x="425.75" y="783.6" width="1.5" height="1.6" fill="#444"/>
<line x1="469.5" y1="433.0" x2="469.5" y2="436.3" stroke="#777" stroke-width="1.9"/>
<rect x="468.75" y="783.6" width="1.5" height="1.6" fill="#444"/>
<line x1="500.5" y1="433.0" x2="500.5" y2="436.3" stroke="#777" stroke-width="1.9"/>
<rect x="499.75" y="783.6" width="1.5" height="1.6" fill="#444"/>
<line x1="524.5" y1="433.0" x2="524.5" y2="436.3" stroke="#777" stroke-width="1.9"/>
<rect x="523.75" y="783.6" width="1.5" height="1.6" fill="#444"/>
<rect x="40.5" y="787.2" width="2.2" height="1.4" fill="#444"/>
<rect x="518.3" y="787.2" width="2.2" height="1.4" fill="#444"/>
<rect x="40.5" y="752.2" width="2.2" height="1.4" fill="#444"/>
<rect x="518.3" y="752.2" width="2.2" height="1.4" fill="#444"/>
<rect x="40.5" y="716.2" width="2.2" height="1.4" fill="#444"/>
<rect x="518.3" y="716.2" width="2.2" height="1.4" fill="#444"/>
<rect x="40.5" y="681.2" width="2.2" height="1.4" fill="#444"/>
<rect x="518.3" y="681.2" width="2.2" height="1.4" fill="#444"/>
<rect x="40.5" y="645.2" width="2.2" height="1.4" fill="#444"/>
<rect x="518.3" y="645.2" width="2.2" height="1.4" fill="#444"/>
<rect x="40.5" y="610.2" width="2.2" height="1.4" fill="#444"/>
<rect x="518.3" y="610.2" width="2.2" height="1.4" fill="#444"/>
<rect x="40.5" y="574.2" width="2.2" height="1.4" fill="#444"/>
<rect x="518.3" y="574.2" width="2.2" height="1.4" fill="#444"/>
<rect x="40.5" y="539.2" width="2.2" height="1.4" fill="#444"/>
<rect x="518.3" y="539.2" width="2.2" height="1.4" fill="#444"/>
<rect x="40.5" y="503.2" width="2.2" height="1.4" fill="#444"/>
<rect x="518.3" y="503.2" width="2.2" height="1.4" fill="#444"/>
<rect x="40.5" y="468.2" width="2.2" height="1.4" fill="#444"/>
<rect x="518.3" y="468.2" width="2.2" height="1.4" fill="#444"/>
<rect x="40.5" y="432.2" width="2.2" height="1.4" fill="#444"/>
<rect x="518.3" y="432.2" width="2.2" height="1.4" fill="#444"/>
<polyline points="108.7,500.1 121.2,483.9 136.1,497.6 149.3,511.9 162.3,525.2 174.2,539.3 190.4,555.3 201.1,575.4 216.4,580.1 230.1,602.9 245.2,614.1 254.8,624.6 273.0,652.9 281.5,665.6 303.1,670.7 310.4,699.0 323.7,704.4 337.0,724.2 353.9,745.5 364.1,773.1 381.4,785.2 394.8,746.5 408.0,736.7 419.4,714.2 436.0,673.9 447.9,659.3 462.1,597.5 470.3,538.3" fill="none" stroke="#111" stroke-width="1.6"/>
<polyline points="108.7,784.1 120.1,764.0 135.3,767.1 146.7,768.6 163.2,776.1 174.6,780.0 188.1,777.6 203.3,785.2 217.0,774.5 228.4,766.9 241.9,751.1 256.6,744.0 270.8,723.5 283.2,710.5 300.0,695.3 310.5,684.6 325.3,661.5 337.5,660.7 350.4,639.4 363.8,633.3 378.6,612.8 392.4,578.5 407.6,544.3 419.0,538.6 434.8,513.2 447.9,498.6 461.4,470.8 470.9,441.9" fill="none" stroke="#111" stroke-width="1.6" stroke-dasharray="5 2.2"/>
<polyline points="112.5,753.9 124.7,742.5 139.9,735.6 151.3,744.0 164.4,742.0 178.0,738.8 192.7,741.8 205.6,741.1 220.8,747.1 233.0,759.3 245.2,766.0 259.7,762.2 273.3,775.2 289.8,772.0 301.4,778.5 314.9,774.2 326.5,780.2 339.6,752.9 350.5,758.2 366.5,749.6 383.3,738.6 395.4,725.6 409.9,710.4 421.3,711.2 436.3,695.5 449.3,686.6 465.7,666.0 470.8,639.6" fill="none" stroke="#111" stroke-width="1.6" stroke-dasharray="1.5 2.05"/>
<polyline points="109.4,753.1 125.4,732.6 139.1,724.2 148.5,708.7 164.6,708.8 181.3,707.6 196.8,715.2 204.4,719.8 220.8,714.9 229.2,725.1 239.1,734.9 247.5,734.1 259.7,732.6 271.8,759.2 287.8,746.3 298.3,751.8 312.5,758.2 327.3,781.1 341.4,785.0 350.2,758.6 365.4,751.0 385.0,739.0 395.4,725.6 409.9,710.4 422.0,688.5 434.6,667.3 445.3,680.0 453.9,664.6 461.9,662.6 471.6,610.8" fill="none" stroke="#111" stroke-width="1.6" stroke-dasharray="5.3 1.6 1.3 2.2"/>
<polyline points="111.0,769.2 123.9,768.1 138.3,767.7 150.5,762.8 164.0,759.2 176.0,774.5 190.1,770.7 204.1,764.6 220.1,770.7 234.6,770.6 244.0,772.1 259.7,781.3 272.6,779.0 282.9,770.6 299.6,783.7 315.9,781.7 325.8,749.5 339.3,745.3 352.6,727.8 364.0,711.3 379.3,721.0 393.9,696.6 406.6,673.7 419.2,650.8 433.4,619.3 445.6,614.7 454.7,594.6 469.7,603.2" fill="none" stroke="#555" stroke-width="1.7000000000000002"/>
<rect x="105.1" y="496.5" width="7.2" height="7.2" fill="none" stroke="#111" stroke-width="1.6"/>
<rect x="117.6" y="480.3" width="7.2" height="7.2" fill="none" stroke="#111" stroke-width="1.6"/>
<rect x="132.5" y="494.0" width="7.2" height="7.2" fill="none" stroke="#111" stroke-width="1.6"/>
<rect x="145.7" y="508.3" width="7.2" height="7.2" fill="none" stroke="#111" stroke-width="1.6"/>
<rect x="158.7" y="521.6" width="7.2" height="7.2" fill="none" stroke="#111" stroke-width="1.6"/>
<rect x="170.6" y="535.7" width="7.2" height="7.2" fill="none" stroke="#111" stroke-width="1.6"/>
<rect x="186.8" y="551.7" width="7.2" height="7.2" fill="none" stroke="#111" stroke-width="1.6"/>
<rect x="197.5" y="571.8" width="7.2" height="7.2" fill="none" stroke="#111" stroke-width="1.6"/>
<rect x="212.8" y="576.5" width="7.2" height="7.2" fill="none" stroke="#111" stroke-width="1.6"/>
<rect x="226.5" y="599.3" width="7.2" height="7.2" fill="none" stroke="#111" stroke-width="1.6"/>
<rect x="241.6" y="610.5" width="7.2" height="7.2" fill="none" stroke="#111" stroke-width="1.6"/>
<rect x="251.2" y="621.0" width="7.2" height="7.2" fill="none" stroke="#111" stroke-width="1.6"/>
<rect x="269.4" y="649.3" width="7.2" height="7.2" fill="none" stroke="#111" stroke-width="1.6"/>
<rect x="277.9" y="662.0" width="7.2" height="7.2" fill="none" stroke="#111" stroke-width="1.6"/>
<rect x="299.5" y="667.1" width="7.2" height="7.2" fill="none" stroke="#111" stroke-width="1.6"/>
<rect x="306.8" y="695.4" width="7.2" height="7.2" fill="none" stroke="#111" stroke-width="1.6"/>
<rect x="320.1" y="700.8" width="7.2" height="7.2" fill="none" stroke="#111" stroke-width="1.6"/>
<rect x="333.4" y="720.6" width="7.2" height="7.2" fill="none" stroke="#111" stroke-width="1.6"/>
<rect x="350.3" y="741.9" width="7.2" height="7.2" fill="none" stroke="#111" stroke-width="1.6"/>
<rect x="360.5" y="769.5" width="7.2" height="7.2" fill="none" stroke="#111" stroke-width="1.6"/>
<rect x="377.8" y="781.6" width="7.2" height="7.2" fill="none" stroke="#111" stroke-width="1.6"/>
<rect x="391.2" y="742.9" width="7.2" height="7.2" fill="none" stroke="#111" stroke-width="1.6"/>
<rect x="404.4" y="733.1" width="7.2" height="7.2" fill="none" stroke="#111" stroke-width="1.6"/>
<rect x="415.8" y="710.6" width="7.2" height="7.2" fill="none" stroke="#111" stroke-width="1.6"/>
<rect x="432.4" y="670.3" width="7.2" height="7.2" fill="none" stroke="#111" stroke-width="1.6"/>
<rect x="444.3" y="655.7" width="7.2" height="7.2" fill="none" stroke="#111" stroke-width="1.6"/>
<rect x="458.5" y="593.9" width="7.2" height="7.2" fill="none" stroke="#111" stroke-width="1.6"/>
<rect x="466.7" y="534.7" width="7.2" height="7.2" fill="none" stroke="#111" stroke-width="1.6"/>
<polygon points="108.7,779.4 112.5,784.1 108.7,788.8 104.9,784.1" fill="none" stroke="#111" stroke-width="1.6"/>
<polygon points="120.1,759.3 123.9,764.0 120.1,768.7 116.3,764.0" fill="none" stroke="#111" stroke-width="1.6"/>
<polygon points="135.3,762.4 139.1,767.1 135.3,771.8 131.5,767.1" fill="none" stroke="#111" stroke-width="1.6"/>
<polygon points="146.7,763.9 150.5,768.6 146.7,773.3 142.9,768.6" fill="none" stroke="#111" stroke-width="1.6"/>
<polygon points="163.2,771.4 167.0,776.1 163.2,780.8 159.4,776.1" fill="none" stroke="#111" stroke-width="1.6"/>
<polygon points="174.6,775.3 178.4,780.0 174.6,784.7 170.8,780.0" fill="none" stroke="#111" stroke-width="1.6"/>
<polygon points="188.1,772.9 191.9,777.6 188.1,782.3 184.3,777.6" fill="none" stroke="#111" stroke-width="1.6"/>
<polygon points="203.3,780.5 207.1,785.2 203.3,789.9 199.5,785.2" fill="none" stroke="#111" stroke-width="1.6"/>
<polygon points="217.0,769.8 220.8,774.5 217.0,779.2 213.2,774.5" fill="none" stroke="#111" stroke-width="1.6"/>
<polygon points="228.4,762.2 232.2,766.9 228.4,771.6 224.6,766.9" fill="none" stroke="#111" stroke-width="1.6"/>
<polygon points="241.9,746.4 245.7,751.1 241.9,755.8 238.1,751.1" fill="none" stroke="#111" stroke-width="1.6"/>
<polygon points="256.6,739.3 260.4,744.0 256.6,748.7 252.8,744.0" fill="none" stroke="#111" stroke-width="1.6"/>
<polygon points="270.8,718.8 274.6,723.5 270.8,728.2 267.0,723.5" fill="none" stroke="#111" stroke-width="1.6"/>
<polygon points="283.2,705.8 287.0,710.5 283.2,715.2 279.4,710.5" fill="none" stroke="#111" stroke-width="1.6"/>
<polygon points="300.0,690.6 303.8,695.3 300.0,700.0 296.2,695.3" fill="none" stroke="#111" stroke-width="1.6"/>
<polygon points="310.5,679.9 314.3,684.6 310.5,689.3 306.7,684.6" fill="none" stroke="#111" stroke-width="1.6"/>
<polygon points="325.3,656.8 329.1,661.5 325.3,666.2 321.5,661.5" fill="none" stroke="#111" stroke-width="1.6"/>
<polygon points="337.5,656.0 341.3,660.7 337.5,665.4 333.7,660.7" fill="none" stroke="#111" stroke-width="1.6"/>
<polygon points="350.4,634.7 354.2,639.4 350.4,644.1 346.6,639.4" fill="none" stroke="#111" stroke-width="1.6"/>
<polygon points="363.8,628.6 367.6,633.3 363.8,638.0 360.0,633.3" fill="none" stroke="#111" stroke-width="1.6"/>
<polygon points="378.6,608.1 382.4,612.8 378.6,617.5 374.8,612.8" fill="none" stroke="#111" stroke-width="1.6"/>
<polygon points="392.4,573.8 396.2,578.5 392.4,583.2 388.6,578.5" fill="none" stroke="#111" stroke-width="1.6"/>
<polygon points="407.6,539.6 411.4,544.3 407.6,549.0 403.8,544.3" fill="none" stroke="#111" stroke-width="1.6"/>
<polygon points="419.0,533.9 422.8,538.6 419.0,543.3 415.2,538.6" fill="none" stroke="#111" stroke-width="1.6"/>
<polygon points="434.8,508.5 438.6,513.2 434.8,517.9 431.0,513.2" fill="none" stroke="#111" stroke-width="1.6"/>
<polygon points="447.9,493.9 451.7,498.6 447.9,503.3 444.1,498.6" fill="none" stroke="#111" stroke-width="1.6"/>
<polygon points="461.4,466.1 465.2,470.8 461.4,475.5 457.6,470.8" fill="none" stroke="#111" stroke-width="1.6"/>
<polygon points="470.9,437.2 474.7,441.9 470.9,446.6 467.1,441.9" fill="none" stroke="#111" stroke-width="1.6"/>
<polygon points="107.8,750.0 117.2,750.0 112.5,757.8" fill="none" stroke="#111" stroke-width="1.6" stroke-linejoin="miter"/>
<polygon points="120.0,738.6 129.4,738.6 124.7,746.4" fill="none" stroke="#111" stroke-width="1.6" stroke-linejoin="miter"/>
<polygon points="135.2,731.7 144.6,731.7 139.9,739.5" fill="none" stroke="#111" stroke-width="1.6" stroke-linejoin="miter"/>
<polygon points="146.6,740.1 156.0,740.1 151.3,747.9" fill="none" stroke="#111" stroke-width="1.6" stroke-linejoin="miter"/>
<polygon points="159.7,738.1 169.1,738.1 164.4,745.9" fill="none" stroke="#111" stroke-width="1.6" stroke-linejoin="miter"/>
<polygon points="173.3,734.9 182.7,734.9 178.0,742.7" fill="none" stroke="#111" stroke-width="1.6" stroke-linejoin="miter"/>
<polygon points="188.0,737.9 197.4,737.9 192.7,745.7" fill="none" stroke="#111" stroke-width="1.6" stroke-linejoin="miter"/>
<polygon points="200.9,737.2 210.3,737.2 205.6,745.0" fill="none" stroke="#111" stroke-width="1.6" stroke-linejoin="miter"/>
<polygon points="216.1,743.2 225.5,743.2 220.8,751.0" fill="none" stroke="#111" stroke-width="1.6" stroke-linejoin="miter"/>
<polygon points="228.3,755.4 237.7,755.4 233.0,763.2" fill="none" stroke="#111" stroke-width="1.6" stroke-linejoin="miter"/>
<polygon points="240.5,762.1 249.9,762.1 245.2,769.9" fill="none" stroke="#111" stroke-width="1.6" stroke-linejoin="miter"/>
<polygon points="255.0,758.3 264.4,758.3 259.7,766.1" fill="none" stroke="#111" stroke-width="1.6" stroke-linejoin="miter"/>
<polygon points="268.6,771.3 278.0,771.3 273.3,779.1" fill="none" stroke="#111" stroke-width="1.6" stroke-linejoin="miter"/>
<polygon points="285.1,768.1 294.5,768.1 289.8,775.9" fill="none" stroke="#111" stroke-width="1.6" stroke-linejoin="miter"/>
<polygon points="296.7,774.6 306.1,774.6 301.4,782.4" fill="none" stroke="#111" stroke-width="1.6" stroke-linejoin="miter"/>
<polygon points="310.2,770.3 319.6,770.3 314.9,778.1" fill="none" stroke="#111" stroke-width="1.6" stroke-linejoin="miter"/>
<polygon points="321.8,776.3 331.2,776.3 326.5,784.1" fill="none" stroke="#111" stroke-width="1.6" stroke-linejoin="miter"/>
<polygon points="334.9,749.0 344.3,749.0 339.6,756.8" fill="none" stroke="#111" stroke-width="1.6" stroke-linejoin="miter"/>
<polygon points="345.8,754.3 355.2,754.3 350.5,762.1" fill="none" stroke="#111" stroke-width="1.6" stroke-linejoin="miter"/>
<polygon points="361.8,745.7 371.2,745.7 366.5,753.5" fill="none" stroke="#111" stroke-width="1.6" stroke-linejoin="miter"/>
<polygon points="378.6,734.7 388.0,734.7 383.3,742.5" fill="none" stroke="#111" stroke-width="1.6" stroke-linejoin="miter"/>
<polygon points="390.7,721.7 400.1,721.7 395.4,729.5" fill="none" stroke="#111" stroke-width="1.6" stroke-linejoin="miter"/>
<polygon points="405.2,706.5 414.6,706.5 409.9,714.3" fill="none" stroke="#111" stroke-width="1.6" stroke-linejoin="miter"/>
<polygon points="416.6,707.3 426.0,707.3 421.3,715.1" fill="none" stroke="#111" stroke-width="1.6" stroke-linejoin="miter"/>
<polygon points="431.6,691.6 441.0,691.6 436.3,699.4" fill="none" stroke="#111" stroke-width="1.6" stroke-linejoin="miter"/>
<polygon points="444.6,682.7 454.0,682.7 449.3,690.5" fill="none" stroke="#111" stroke-width="1.6" stroke-linejoin="miter"/>
<polygon points="461.0,662.1 470.4,662.1 465.7,669.9" fill="none" stroke="#111" stroke-width="1.6" stroke-linejoin="miter"/>
<polygon points="466.1,635.7 475.5,635.7 470.8,643.5" fill="none" stroke="#111" stroke-width="1.6" stroke-linejoin="miter"/>
<polygon points="104.7,756.8 114.1,756.8 109.4,749.5" fill="none" stroke="#111" stroke-width="1.6" stroke-linejoin="miter"/>
<polygon points="120.7,736.2 130.1,736.2 125.4,729.0" fill="none" stroke="#111" stroke-width="1.6" stroke-linejoin="miter"/>
<polygon points="134.4,727.9 143.8,727.9 139.1,720.6" fill="none" stroke="#111" stroke-width="1.6" stroke-linejoin="miter"/>
<polygon points="143.8,712.4 153.2,712.4 148.5,705.1" fill="none" stroke="#111" stroke-width="1.6" stroke-linejoin="miter"/>
<polygon points="159.9,712.4 169.3,712.4 164.6,705.1" fill="none" stroke="#111" stroke-width="1.6" stroke-linejoin="miter"/>
<polygon points="176.6,711.2 186.0,711.2 181.3,704.0" fill="none" stroke="#111" stroke-width="1.6" stroke-linejoin="miter"/>
<polygon points="192.1,718.9 201.5,718.9 196.8,711.6" fill="none" stroke="#111" stroke-width="1.6" stroke-linejoin="miter"/>
<polygon points="199.7,723.4 209.1,723.4 204.4,716.1" fill="none" stroke="#111" stroke-width="1.6" stroke-linejoin="miter"/>
<polygon points="216.1,718.5 225.5,718.5 220.8,711.2" fill="none" stroke="#111" stroke-width="1.6" stroke-linejoin="miter"/>
<polygon points="224.5,728.8 233.9,728.8 229.2,721.5" fill="none" stroke="#111" stroke-width="1.6" stroke-linejoin="miter"/>
<polygon points="234.4,738.5 243.8,738.5 239.1,731.2" fill="none" stroke="#111" stroke-width="1.6" stroke-linejoin="miter"/>
<polygon points="242.8,737.8 252.2,737.8 247.5,730.5" fill="none" stroke="#111" stroke-width="1.6" stroke-linejoin="miter"/>
<polygon points="255.0,736.2 264.4,736.2 259.7,729.0" fill="none" stroke="#111" stroke-width="1.6" stroke-linejoin="miter"/>
<polygon points="267.1,762.9 276.5,762.9 271.8,755.6" fill="none" stroke="#111" stroke-width="1.6" stroke-linejoin="miter"/>
<polygon points="283.1,749.9 292.5,749.9 287.8,742.6" fill="none" stroke="#111" stroke-width="1.6" stroke-linejoin="miter"/>
<polygon points="293.6,755.4 303.0,755.4 298.3,748.1" fill="none" stroke="#111" stroke-width="1.6" stroke-linejoin="miter"/>
<polygon points="307.8,761.9 317.2,761.9 312.5,754.6" fill="none" stroke="#111" stroke-width="1.6" stroke-linejoin="miter"/>
<polygon points="322.6,784.8 332.0,784.8 327.3,777.5" fill="none" stroke="#111" stroke-width="1.6" stroke-linejoin="miter"/>
<polygon points="336.7,788.6 346.1,788.6 341.4,781.4" fill="none" stroke="#111" stroke-width="1.6" stroke-linejoin="miter"/>
<polygon points="345.5,762.2 354.9,762.2 350.2,755.0" fill="none" stroke="#111" stroke-width="1.6" stroke-linejoin="miter"/>
<polygon points="360.7,754.6 370.1,754.6 365.4,747.4" fill="none" stroke="#111" stroke-width="1.6" stroke-linejoin="miter"/>
<polygon points="380.3,742.6 389.7,742.6 385.0,735.4" fill="none" stroke="#111" stroke-width="1.6" stroke-linejoin="miter"/>
<polygon points="390.7,729.2 400.1,729.2 395.4,722.0" fill="none" stroke="#111" stroke-width="1.6" stroke-linejoin="miter"/>
<polygon points="405.2,714.0 414.6,714.0 409.9,706.8" fill="none" stroke="#111" stroke-width="1.6" stroke-linejoin="miter"/>
<polygon points="417.3,692.1 426.7,692.1 422.0,684.9" fill="none" stroke="#111" stroke-width="1.6" stroke-linejoin="miter"/>
<polygon points="429.9,670.9 439.3,670.9 434.6,663.6" fill="none" stroke="#111" stroke-width="1.6" stroke-linejoin="miter"/>
<polygon points="440.6,683.6 450.0,683.6 445.3,676.4" fill="none" stroke="#111" stroke-width="1.6" stroke-linejoin="miter"/>
<polygon points="449.2,668.2 458.6,668.2 453.9,661.0" fill="none" stroke="#111" stroke-width="1.6" stroke-linejoin="miter"/>
<polygon points="457.2,666.2 466.6,666.2 461.9,659.0" fill="none" stroke="#111" stroke-width="1.6" stroke-linejoin="miter"/>
<polygon points="466.9,614.4 476.3,614.4 471.6,607.1" fill="none" stroke="#111" stroke-width="1.6" stroke-linejoin="miter"/>
<polygon points="111.0,764.0 112.2,768.4 115.7,768.6 113.0,770.7 113.9,774.1 111.0,772.2 108.1,774.1 109.0,770.7 106.3,768.6 109.8,768.4" fill="#5a5a5a" stroke="#555" stroke-width="0.6" stroke-linejoin="round"/><circle cx="111.0" cy="770.1" r="0.8" fill="#aaa"/>
<polygon points="123.9,762.9 125.1,767.3 128.6,767.5 125.9,769.6 126.8,773.0 123.9,771.1 121.0,773.0 121.9,769.6 119.2,767.5 122.7,767.3" fill="#5a5a5a" stroke="#555" stroke-width="0.6" stroke-linejoin="round"/><circle cx="123.9" cy="769.0" r="0.8" fill="#aaa"/>
<polygon points="138.3,762.5 139.5,766.9 143.0,767.1 140.3,769.2 141.2,772.6 138.3,770.7 135.4,772.6 136.3,769.2 133.6,767.1 137.1,766.9" fill="#5a5a5a" stroke="#555" stroke-width="0.6" stroke-linejoin="round"/><circle cx="138.3" cy="768.6" r="0.8" fill="#aaa"/>
<polygon points="150.5,757.6 151.7,762.0 155.2,762.2 152.5,764.3 153.4,767.7 150.5,765.8 147.6,767.7 148.5,764.3 145.8,762.2 149.3,762.0" fill="#5a5a5a" stroke="#555" stroke-width="0.6" stroke-linejoin="round"/><circle cx="150.5" cy="763.7" r="0.8" fill="#aaa"/>
<polygon points="164.0,754.0 165.2,758.4 168.7,758.6 166.0,760.7 166.9,764.1 164.0,762.2 161.1,764.1 162.0,760.7 159.3,758.6 162.8,758.4" fill="#5a5a5a" stroke="#555" stroke-width="0.6" stroke-linejoin="round"/><circle cx="164.0" cy="760.1" r="0.8" fill="#aaa"/>
<polygon points="176.0,769.3 177.2,773.7 180.7,773.9 178.0,776.0 178.9,779.4 176.0,777.5 173.1,779.4 174.0,776.0 171.3,773.9 174.8,773.7" fill="#5a5a5a" stroke="#555" stroke-width="0.6" stroke-linejoin="round"/><circle cx="176.0" cy="775.4" r="0.8" fill="#aaa"/>
<polygon points="190.1,765.5 191.3,769.9 194.8,770.1 192.1,772.2 193.0,775.6 190.1,773.7 187.2,775.6 188.1,772.2 185.4,770.1 188.9,769.9" fill="#5a5a5a" stroke="#555" stroke-width="0.6" stroke-linejoin="round"/><circle cx="190.1" cy="771.6" r="0.8" fill="#aaa"/>
<polygon points="204.1,759.4 205.3,763.8 208.8,764.0 206.1,766.1 207.0,769.5 204.1,767.6 201.2,769.5 202.1,766.1 199.4,764.0 202.9,763.8" fill="#5a5a5a" stroke="#555" stroke-width="0.6" stroke-linejoin="round"/><circle cx="204.1" cy="765.5" r="0.8" fill="#aaa"/>
<polygon points="220.1,765.5 221.3,769.9 224.8,770.1 222.1,772.2 223.0,775.6 220.1,773.7 217.2,775.6 218.1,772.2 215.4,770.1 218.9,769.9" fill="#5a5a5a" stroke="#555" stroke-width="0.6" stroke-linejoin="round"/><circle cx="220.1" cy="771.6" r="0.8" fill="#aaa"/>
<polygon points="234.6,765.4 235.8,769.8 239.3,770.0 236.6,772.1 237.5,775.5 234.6,773.6 231.7,775.5 232.6,772.1 229.9,770.0 233.4,769.8" fill="#5a5a5a" stroke="#555" stroke-width="0.6" stroke-linejoin="round"/><circle cx="234.6" cy="771.5" r="0.8" fill="#aaa"/>
<polygon points="244.0,766.9 245.2,771.3 248.7,771.5 246.0,773.6 246.9,777.0 244.0,775.1 241.1,777.0 242.0,773.6 239.3,771.5 242.8,771.3" fill="#5a5a5a" stroke="#555" stroke-width="0.6" stroke-linejoin="round"/><circle cx="244.0" cy="773.0" r="0.8" fill="#aaa"/>
<polygon points="259.7,776.1 260.9,780.5 264.4,780.7 261.7,782.8 262.6,786.2 259.7,784.3 256.8,786.2 257.7,782.8 255.0,780.7 258.5,780.5" fill="#5a5a5a" stroke="#555" stroke-width="0.6" stroke-linejoin="round"/><circle cx="259.7" cy="782.2" r="0.8" fill="#aaa"/>
<polygon points="272.6,773.8 273.8,778.2 277.3,778.4 274.6,780.5 275.5,783.9 272.6,782.0 269.7,783.9 270.6,780.5 267.9,778.4 271.4,778.2" fill="#5a5a5a" stroke="#555" stroke-width="0.6" stroke-linejoin="round"/><circle cx="272.6" cy="779.9" r="0.8" fill="#aaa"/>
<polygon points="282.9,765.4 284.1,769.8 287.6,770.0 284.9,772.1 285.8,775.5 282.9,773.6 280.0,775.5 280.9,772.1 278.2,770.0 281.7,769.8" fill="#5a5a5a" stroke="#555" stroke-width="0.6" stroke-linejoin="round"/><circle cx="282.9" cy="771.5" r="0.8" fill="#aaa"/>
<polygon points="299.6,778.5 300.8,782.9 304.3,783.1 301.6,785.2 302.5,788.6 299.6,786.7 296.7,788.6 297.6,785.2 294.9,783.1 298.4,782.9" fill="#5a5a5a" stroke="#555" stroke-width="0.6" stroke-linejoin="round"/><circle cx="299.6" cy="784.6" r="0.8" fill="#aaa"/>
<polygon points="315.9,776.5 317.1,780.9 320.6,781.1 317.9,783.2 318.8,786.6 315.9,784.7 313.0,786.6 313.9,783.2 311.2,781.1 314.7,780.9" fill="#5a5a5a" stroke="#555" stroke-width="0.6" stroke-linejoin="round"/><circle cx="315.9" cy="782.6" r="0.8" fill="#aaa"/>
<polygon points="325.8,744.3 327.0,748.7 330.5,748.9 327.8,751.0 328.7,754.4 325.8,752.5 322.9,754.4 323.8,751.0 321.1,748.9 324.6,748.7" fill="#5a5a5a" stroke="#555" stroke-width="0.6" stroke-linejoin="round"/><circle cx="325.8" cy="750.4" r="0.8" fill="#aaa"/>
<polygon points="339.3,740.1 340.5,744.5 344.0,744.7 341.3,746.8 342.2,750.2 339.3,748.3 336.4,750.2 337.3,746.8 334.6,744.7 338.1,744.5" fill="#5a5a5a" stroke="#555" stroke-width="0.6" stroke-linejoin="round"/><circle cx="339.3" cy="746.2" r="0.8" fill="#aaa"/>
<polygon points="352.6,722.6 353.8,727.0 357.3,727.2 354.6,729.3 355.5,732.7 352.6,730.8 349.7,732.7 350.6,729.3 347.9,727.2 351.4,727.0" fill="#5a5a5a" stroke="#555" stroke-width="0.6" stroke-linejoin="round"/><circle cx="352.6" cy="728.7" r="0.8" fill="#aaa"/>
<polygon points="364.0,706.1 365.2,710.5 368.7,710.7 366.0,712.8 366.9,716.2 364.0,714.3 361.1,716.2 362.0,712.8 359.3,710.7 362.8,710.5" fill="#5a5a5a" stroke="#555" stroke-width="0.6" stroke-linejoin="round"/><circle cx="364.0" cy="712.2" r="0.8" fill="#aaa"/>
<polygon points="379.3,715.8 380.5,720.2 384.0,720.4 381.3,722.5 382.2,725.9 379.3,724.0 376.4,725.9 377.3,722.5 374.6,720.4 378.1,720.2" fill="#5a5a5a" stroke="#555" stroke-width="0.6" stroke-linejoin="round"/><circle cx="379.3" cy="721.9" r="0.8" fill="#aaa"/>
<polygon points="393.9,691.4 395.1,695.8 398.6,696.0 395.9,698.1 396.8,701.5 393.9,699.6 391.0,701.5 391.9,698.1 389.2,696.0 392.7,695.8" fill="#5a5a5a" stroke="#555" stroke-width="0.6" stroke-linejoin="round"/><circle cx="393.9" cy="697.5" r="0.8" fill="#aaa"/>
<polygon points="406.6,668.5 407.8,672.9 411.3,673.1 408.6,675.2 409.5,678.6 406.6,676.7 403.7,678.6 404.6,675.2 401.9,673.1 405.4,672.9" fill="#5a5a5a" stroke="#555" stroke-width="0.6" stroke-linejoin="round"/><circle cx="406.6" cy="674.6" r="0.8" fill="#aaa"/>
<polygon points="419.2,645.6 420.4,650.0 423.9,650.2 421.2,652.3 422.1,655.7 419.2,653.8 416.3,655.7 417.2,652.3 414.5,650.2 418.0,650.0" fill="#5a5a5a" stroke="#555" stroke-width="0.6" stroke-linejoin="round"/><circle cx="419.2" cy="651.7" r="0.8" fill="#aaa"/>
<polygon points="433.4,614.1 434.6,618.5 438.1,618.7 435.4,620.8 436.3,624.2 433.4,622.3 430.5,624.2 431.4,620.8 428.7,618.7 432.2,618.5" fill="#5a5a5a" stroke="#555" stroke-width="0.6" stroke-linejoin="round"/><circle cx="433.4" cy="620.2" r="0.8" fill="#aaa"/>
<polygon points="445.6,609.5 446.8,613.9 450.3,614.1 447.6,616.2 448.5,619.6 445.6,617.7 442.7,619.6 443.6,616.2 440.9,614.1 444.4,613.9" fill="#5a5a5a" stroke="#555" stroke-width="0.6" stroke-linejoin="round"/><circle cx="445.6" cy="615.6" r="0.8" fill="#aaa"/>
<polygon points="454.7,589.4 455.9,593.8 459.4,594.0 456.7,596.1 457.6,599.5 454.7,597.6 451.8,599.5 452.7,596.1 450.0,594.0 453.5,593.8" fill="#5a5a5a" stroke="#555" stroke-width="0.6" stroke-linejoin="round"/><circle cx="454.7" cy="595.5" r="0.8" fill="#aaa"/>
<polygon points="469.7,598.0 470.9,602.4 474.4,602.6 471.7,604.7 472.6,608.1 469.7,606.2 466.8,608.1 467.7,604.7 465.0,602.6 468.5,602.4" fill="#5a5a5a" stroke="#555" stroke-width="0.6" stroke-linejoin="round"/><circle cx="469.7" cy="604.1" r="0.8" fill="#aaa"/>
<rect x="225.5" y="432.5" width="162.0" height="83.0" fill="#fff" stroke="#c4c4c4" stroke-width="1"/>
<line x1="233.7" y1="443.5" x2="268.9" y2="443.5" stroke="#111" stroke-width="1.6"/><rect x="247.8" y="439.9" width="7.2" height="7.2" fill="none" stroke="#111" stroke-width="1.6"/>
<line x1="233.7" y1="458.5" x2="268.9" y2="458.5" stroke="#111" stroke-width="1.6" stroke-dasharray="5 2.2"/><polygon points="251.4,453.8 255.2,458.5 251.4,463.2 247.6,458.5" fill="none" stroke="#111" stroke-width="1.6"/>
<line x1="233.7" y1="474.5" x2="268.9" y2="474.5" stroke="#111" stroke-width="1.6" stroke-dasharray="1.5 2.05"/><polygon points="246.7,470.6 256.1,470.6 251.4,478.4" fill="none" stroke="#111" stroke-width="1.6" stroke-linejoin="miter"/>
<line x1="233.7" y1="490.5" x2="268.9" y2="490.5" stroke="#111" stroke-width="1.6" stroke-dasharray="5.3 1.6 1.3 2.2"/><polygon points="246.7,494.1 256.1,494.1 251.4,486.9" fill="none" stroke="#111" stroke-width="1.6" stroke-linejoin="miter"/>
<line x1="233.7" y1="505.5" x2="268.9" y2="505.5" stroke="#555" stroke-width="1.7000000000000002"/><polygon points="251.4,500.3 252.6,504.7 256.1,504.9 253.4,507.0 254.3,510.4 251.4,508.5 248.5,510.4 249.4,507.0 246.7,504.9 250.2,504.7" fill="#5a5a5a" stroke="#5a5a5a" stroke-width="0.6" stroke-linejoin="round"/><circle cx="251.4" cy="506.4" r="0.8" fill="#6a6a6a"/>
<text x="272.98" y="447.40" font-size="10.8" letter-spacing="0.927" stroke="#000" stroke-width="0.12">1Hz</text><rect x="272.87" y="445.56" width="2.65" height="2.34" fill="#fff"/><rect x="276.87" y="445.56" width="2.38" height="2.34" fill="#fff"/>
<text x="304.03" y="447.40" font-size="10.8" letter-spacing="0.872" stroke="#000" stroke-width="0.12">(RMS=10.1%)</text><rect x="342.18" y="445.56" width="2.65" height="2.34" fill="#fff"/><rect x="346.18" y="445.56" width="2.38" height="2.34" fill="#fff"/><rect x="359.81" y="445.56" width="2.65" height="2.34" fill="#fff"/><rect x="363.81" y="445.56" width="2.38" height="2.34" fill="#fff"/>
<text x="272.77" y="463.50" font-size="10.8" letter-spacing="1.032" stroke="#000" stroke-width="0.12">5Hz</text>
<text x="304.03" y="463.50" font-size="10.8" letter-spacing="0.872" stroke="#000" stroke-width="0.12">(RMS=8.81%)</text><rect x="359.81" y="461.66" width="2.65" height="2.34" fill="#fff"/><rect x="363.81" y="461.66" width="2.38" height="2.34" fill="#fff"/>
<text x="272.98" y="479.40" font-size="10.8" letter-spacing="1.049" stroke="#000" stroke-width="0.12">10Hz</text><rect x="272.87" y="477.56" width="2.65" height="2.34" fill="#fff"/><rect x="276.87" y="477.56" width="2.38" height="2.34" fill="#fff"/>
<text x="304.03" y="479.40" font-size="10.8" letter-spacing="0.872" stroke="#000" stroke-width="0.12">(RMS=3.32%)</text>
<text x="272.66" y="495.30" font-size="10.8" letter-spacing="1.156" stroke="#000" stroke-width="0.12">20Hz</text>
<text x="304.03" y="495.30" font-size="10.8" letter-spacing="0.872" stroke="#000" stroke-width="0.12">(RMS=4.23%)</text>
<text x="272.79" y="511.10" font-size="10.8" letter-spacing="1.112" stroke="#000" stroke-width="0.12">30Hz</text>
<text x="304.03" y="511.10" font-size="10.8" letter-spacing="0.872" stroke="#000" stroke-width="0.12">(RMS=4.62%)</text>
<text x="26.71" y="792.60" font-size="11" stroke="#000" stroke-width="0.12">0</text>
<text x="26.84" y="757.07" font-size="11" stroke="#000" stroke-width="0.12">2</text>
<text x="26.60" y="721.54" font-size="11" stroke="#000" stroke-width="0.12">4</text>
<text x="26.77" y="686.01" font-size="11" stroke="#000" stroke-width="0.12">6</text>
<text x="26.76" y="650.48" font-size="11" stroke="#000" stroke-width="0.12">8</text>
<text x="20.59" y="614.95" font-size="11" stroke="#000" stroke-width="0.12">10</text><rect x="20.48" y="613.08" width="2.69" height="2.37" fill="#fff"/><rect x="24.55" y="613.08" width="2.42" height="2.37" fill="#fff"/>
<text x="20.72" y="579.42" font-size="11" stroke="#000" stroke-width="0.12">12</text><rect x="20.61" y="577.55" width="2.69" height="2.37" fill="#fff"/><rect x="24.68" y="577.55" width="2.42" height="2.37" fill="#fff"/>
<text x="20.49" y="543.89" font-size="11" stroke="#000" stroke-width="0.12">14</text><rect x="20.38" y="542.02" width="2.69" height="2.37" fill="#fff"/><rect x="24.45" y="542.02" width="2.42" height="2.37" fill="#fff"/>
<text x="20.65" y="508.36" font-size="11" stroke="#000" stroke-width="0.12">16</text><rect x="20.54" y="506.49" width="2.69" height="2.37" fill="#fff"/><rect x="24.61" y="506.49" width="2.42" height="2.37" fill="#fff"/>
<text x="20.64" y="472.83" font-size="11" stroke="#000" stroke-width="0.12">18</text><rect x="20.53" y="470.96" width="2.69" height="2.37" fill="#fff"/><rect x="24.60" y="470.96" width="2.42" height="2.37" fill="#fff"/>
<text x="20.59" y="437.30" font-size="11" stroke="#000" stroke-width="0.12">20</text>
<text x="99.06" y="806.70" font-size="11" letter-spacing="0.032" stroke="#000" stroke-width="0.12">10</text><rect x="98.95" y="804.83" width="2.69" height="2.37" fill="#fff"/><rect x="103.02" y="804.83" width="2.42" height="2.37" fill="#fff"/><text x="111.55" y="799.00" font-size="7.8" letter-spacing="-0.508" stroke="#000" stroke-width="0.12">-1</text><rect x="113.56" y="797.67" width="1.91" height="1.83" fill="#fff"/><rect x="116.45" y="797.67" width="1.72" height="1.83" fill="#fff"/>
<text x="345.76" y="806.70" font-size="11" letter-spacing="-0.568" stroke="#000" stroke-width="0.12">10</text><rect x="345.65" y="804.83" width="2.69" height="2.37" fill="#fff"/><rect x="349.72" y="804.83" width="2.42" height="2.37" fill="#fff"/><text x="357.50" y="798.80" font-size="7.8" letter-spacing="0.000" stroke="#000" stroke-width="0.12">0</text>
<text x="220.29" y="821.00" font-size="11.2" letter-spacing="0.771" stroke="#000" stroke-width="0.12">Strain amplitude (%)</text>
<g transform="translate(10.20,634.40) rotate(-90)"><text x="-0.89" y="0" font-size="10.8" letter-spacing="0.794" stroke="#000" stroke-width="0.12">Err1 (%)</text><rect x="15.78" y="-1.84" width="2.65" height="2.34" fill="#fff"/><rect x="19.78" y="-1.84" width="2.38" height="2.34" fill="#fff"/></g>
</g></svg></body></html>
